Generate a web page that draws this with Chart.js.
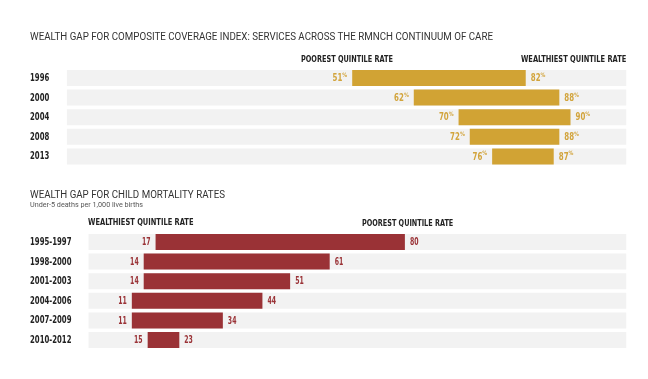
<!DOCTYPE html>
<html><head><meta charset="utf-8">
<script src="https://cdn.jsdelivr.net/npm/chart.js@4.4.1/dist/chart.umd.min.js"></script>
<style>
html,body{margin:0;padding:0;background:#fff;width:648px;height:379px;overflow:hidden}
.t{position:absolute;white-space:nowrap;transform-origin:0 0;line-height:1;color:#2b2b2b}
canvas{position:absolute;left:0;top:0}
</style></head><body>
<canvas id="c1" width="648" height="379"></canvas>
<canvas id="c2" width="648" height="379"></canvas>
<div id="texts"></div>
<script>
// ---- data ----
const coverageYears = ['1996', '2000', '2004', '2008', '2013'];
const coveragePoorest = [51, 62, 70, 72, 76];
const coverageWealthiest = [82, 88, 90, 88, 87];
const coverageAxisMax = 100;

const mortalityPeriods = ['1995-1997', '1998-2000', '2001-2003', '2004-2006', '2007-2009', '2010-2012'];
const mortalityWealthiest = [17, 14, 14, 11, 11, 15];
const mortalityPoorest = [80, 61, 51, 44, 34, 23];
const mortalityAxisMax = 136;

const coverageTitle = 'WEALTH GAP FOR COMPOSITE COVERAGE INDEX: SERVICES ACROSS THE RMNCH CONTINUUM OF CARE';
const mortalityTitle = 'WEALTH GAP FOR CHILD MORTALITY RATES';
const mortalitySubtitle = 'Under-5 deaths per 1,000 live births';
const poorestLabel = 'POOREST QUINTILE RATE';
const wealthiestLabel = 'WEALTHIEST QUINTILE RATE';

// ---- fonts ----
function detectFamily(){
  const c = document.createElement('canvas').getContext('2d');
  const cands = ['Liberation Sans Narrow','DejaVu Sans Condensed','Roboto Condensed','Arial Narrow'];
  c.font = 'bold 40px monospace'; const base = c.measureText('WQ0123abc').width;
  for (const f of cands){ c.font = `bold 40px "${f}", monospace`; if (Math.abs(c.measureText('WQ0123abc').width - base) > 0.5) return f; }
  return 'Roboto';
}
const FAM = detectFamily();
const FONT = `"${FAM}", "Liberation Sans", Roboto, sans-serif`;
const REG = `Roboto, "Liberation Sans", sans-serif`;

const GOLD = '#D1A334', GOLD_TXT = '#D2A43C';
const RED = '#9A3236', RED_TXT = '#9A3236';
const TRACK = '#F2F2F2';

// ---- HTML text fitted to widths ----
function addText(s, left, cy, width, size, weight, color, fam){
  const d = document.createElement('div');
  d.className = 't'; d.textContent = s;
  d.style.font = `${weight} ${size}px ${fam}`;
  d.style.color = color;
  d.style.left = left + 'px';
  d.style.top = (cy - size*0.5) + 'px';
  document.getElementById('texts').appendChild(d);
  const w = d.getBoundingClientRect().width;
  d.style.transform = `scaleX(${width / w})`;
}
addText(coverageTitle, 30, 35, 463, 11, 400, '#333', REG);
addText(poorestLabel, 300.7, 58, 92, 9, 700, '#222', FONT);
addText(wealthiestLabel, 520.7, 58, 105.3, 9, 700, '#222', FONT);
addText(mortalityTitle, 30, 193, 195, 11, 400, '#333', REG);
addText(mortalitySubtitle, 30, 203.5, 113, 8, 400, '#555', REG);
addText(wealthiestLabel, 88.3, 221.7, 105.5, 9, 700, '#222', FONT);
addText(poorestLabel, 361.7, 222, 91.3, 9, 700, '#222', FONT);

// ---- canvas text helper ----
const mc = document.createElement('canvas').getContext('2d');
function scaleFor(sample, size, targetW){
  mc.font = `bold ${size}px ${FONT}`;
  return Math.min(1.2, targetW / mc.measureText(sample).width);
}
function drawTxt(ctx, s, x, y, align, size, color, sx){
  ctx.save();
  ctx.font = `bold ${size}px ${FONT}`;
  ctx.fillStyle = color; ctx.textBaseline = 'middle'; ctx.textAlign = 'left';
  const w = ctx.measureText(s).width * sx;
  const left = align === 'right' ? x - w : x;
  ctx.translate(left, y); ctx.scale(sx, 1); ctx.fillText(s, 0, 0);
  ctx.restore();
  return w;
}

function labelPlugin(opts){
  return {
    id: 'lbls',
    afterDatasetsDraw(chart){
      const ctx = chart.ctx;
      const meta = chart.getDatasetMeta(0);
      const cats = chart.data.labels;
      const rowSx = scaleFor('1996', 10, 19.3);
      const valSx = scaleFor('00', opts.valSize, opts.digitW * 2);
      meta.data.forEach((el, i) => {
        const x0 = Math.min(el.x, el.base), x1 = Math.max(el.x, el.base);
        const y = el.y;
        drawTxt(ctx, cats[i], 30, y + 0.5, 'left', 10, '#222', rowSx);
        const raw = chart.data.datasets[0].data[i];
        const lo = Math.min(raw[0], raw[1]), hi = Math.max(raw[0], raw[1]);
        if (opts.pct){
          // left label with % superscript
          mc.font = `bold 6px ${FONT}`;
          const pw = mc.measureText('%').width * 0.9;
          const lx = x0 - 5 - pw;
          drawTxt(ctx, String(lo), lx, y + 0.5, 'right', opts.valSize, opts.color, valSx);
          drawTxt(ctx, '%', lx, y - 2.5, 'left', 6, opts.color, 0.9);
          const w = drawTxt(ctx, String(hi), x1 + 5, y + 0.5, 'left', opts.valSize, opts.color, valSx);
          drawTxt(ctx, '%', x1 + 5 + w, y - 2.5, 'left', 6, opts.color, 0.9);
        } else {
          drawTxt(ctx, String(lo), x0 - 5, y + 0.5, 'right', opts.valSize, opts.color, valSx);
          drawTxt(ctx, String(hi), x1 + 5, y + 0.5, 'left', opts.valSize, opts.color, valSx);
        }
      });
    }
  };
}

function makeChart(id, labels, lo, hi, max, color, padding, plugOpts){
  return new Chart(document.getElementById(id), {
    type: 'bar',
    data: {
      labels,
      datasets: [
        { data: labels.map((_, i) => [lo[i], hi[i]]), backgroundColor: color, borderWidth: 0, order: 1 },
        { data: labels.map(() => [0, max]), backgroundColor: TRACK, borderWidth: 0, order: 2 }
      ]
    },
    options: {
      indexAxis: 'y',
      responsive: false,
      animation: false,
      devicePixelRatio: 1,
      layout: { padding },
      datasets: { bar: { grouped: false, barPercentage: 0.816, categoryPercentage: 1 } },
      scales: {
        x: { display: false, min: 0, max },
        y: { display: false }
      },
      plugins: { legend: { display: false }, tooltip: { enabled: false } }
    },
    plugins: [labelPlugin(plugOpts)]
  });
}

makeChart('c1', coverageYears, coveragePoorest, coverageWealthiest, coverageAxisMax, GOLD,
  { left: 66.7, right: 21.5, top: 68.2, bottom: 212.8 },
  { pct: true, valSize: 10.5, digitW: 4.9, color: GOLD_TXT });
makeChart('c2', mortalityPeriods, mortalityWealthiest, mortalityPoorest, mortalityAxisMax, RED,
  { left: 88.3, right: 21.5, top: 232.2, bottom: 29.2 },
  { pct: false, valSize: 10.5, digitW: 4.3, color: RED_TXT });
</script>
</body></html>
